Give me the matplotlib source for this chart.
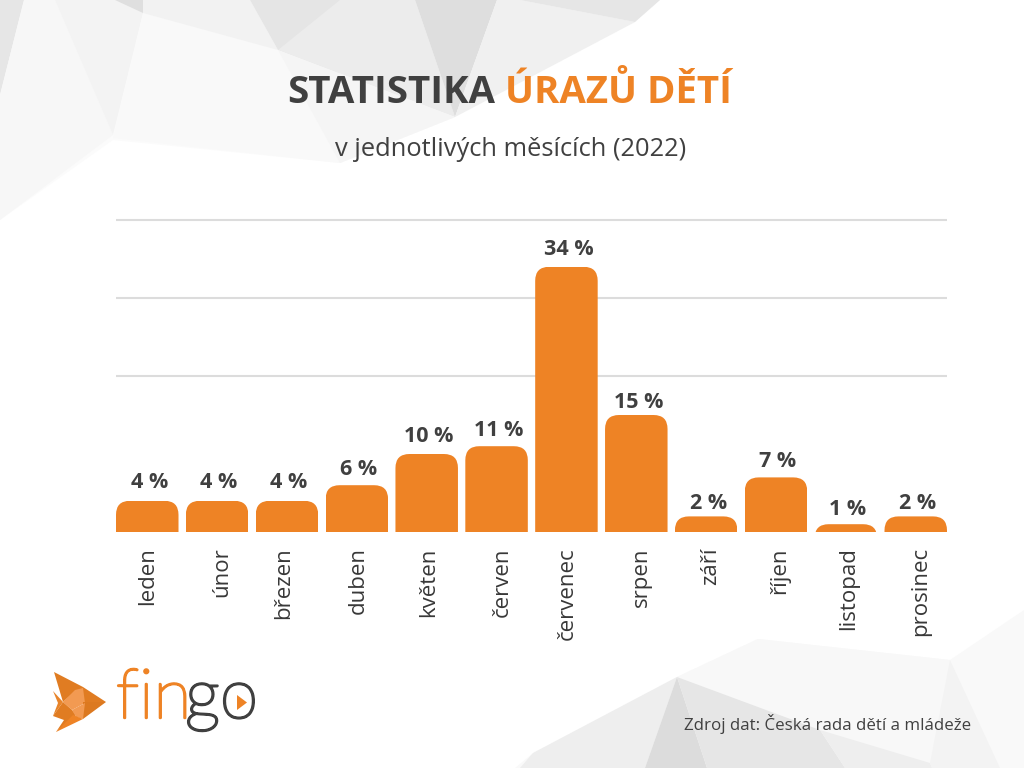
import matplotlib
matplotlib.use("Agg")
import matplotlib.pyplot as plt
import matplotlib.patheffects as pe
from matplotlib.patches import FancyBboxPatch, Polygon
from matplotlib.transforms import ScaledTranslation

# ---- data ----
months = ["leden", "únor", "březen", "duben", "květen", "červen", "červenec",
          "srpen", "září", "říjen", "listopad", "prosinec"]
shares = [4, 4, 4, 6, 10, 11, 34, 15, 2, 7, 1, 2]
grid_ticks = [20, 30, 40]
title_dark = "STATISTIKA"
title_orange = "ÚRAZŮ DĚTÍ"
subtitle = "v jednotlivých měsících (2022)"
source = "Zdroj dat: Česká rada dětí a mládeže"

# gap in pixels between a bar top and the centre of its label
label_gaps = [18, 18, 18, 16, 17, 16, 17, 13, 13, 16, 15, 13]
# sideways nudge in pixels of each month label
tick_nudges = [0, 5, -3, 1, 2, 6, 1, 5, 4, 4, 3, 5]

ORANGE = "#EE8325"
DARK = "#404040"
W, H = 1024, 768
plt.rcParams["font.family"] = ["Open Sans", "DejaVu Sans"]

fig = plt.figure(figsize=(W / 100, H / 100), dpi=100, facecolor="white")

# pixel-space layer: background facets, titles, logo
bg = fig.add_axes([0, 0, 1, 1], zorder=0)
bg.set_xlim(0, W)
bg.set_ylim(H, 0)
bg.axis("off")

facets = [
    ([(0,0),(660,0),(635,22),(455,117),(340,163),(113,140),(0,220)], "#fbfbfb"),
    ([(0,0),(24,0),(0,95)], "#e6e6e6"),
    ([(24,0),(55,0),(113,135),(0,220),(0,95)], "#f7f7f7"),
    ([(55,0),(120,0),(143,13),(113,135)], "#f3f3f3"),
    ([(115,0),(143,0),(143,13)], "#dfdfdf"),
    ([(143,13),(278,50),(113,138)], "#f9f9f9"),
    ([(143,0),(250,0),(278,50),(143,13)], "#f2f2f2"),
    ([(250,0),(340,0),(340,75),(278,50)], "#e5e5e5"),
    ([(278,50),(455,117),(340,163),(113,138)], "#f9f9f9"),
    ([(340,0),(415,0),(455,117),(278,50)], "#ececec"),
    ([(278,50),(455,117),(340,163)], "#f5f5f5"),
    ([(415,0),(497,0),(455,117)], "#dedede"),
    ([(497,0),(520,0),(635,22),(455,117)], "#f0f0f0"),
    ([(520,0),(660,0),(635,22)], "#e6e6e6"),
    ([(515,768),(533,753),(677,677),(758,639),(950,660),(1024,610),(1024,768)], "#f9f9f9"),
    ([(677,677),(758,639),(950,660),(930,763),(820,730)], "#f8f8f8"),
    ([(533,753),(677,677),(645,768),(520,768)], "#eeeeee"),
    ([(677,677),(645,768),(707,768)], "#dcdcdc"),
    ([(677,677),(820,730),(845,768),(707,768)], "#e6e6e6"),
    ([(820,730),(930,763),(932,768),(845,768)], "#eeeeee"),
    ([(950,660),(930,763),(932,768),(1000,768)], "#f3f3f3"),
]
for pts, col in facets:
    bg.add_patch(Polygon(pts, closed=True, facecolor=col, edgecolor="none"))

# titles
bg.text(495, 103, title_dark, color=DARK, fontsize=27.6, fontweight="bold",
        ha="right", va="baseline")
bg.text(505, 103, title_orange, color=ORANGE, fontsize=27.6, fontweight="bold",
        ha="left", va="baseline")
bg.text(511, 156.5, subtitle, color=DARK, fontsize=18.4, ha="center", va="baseline")
bg.text(971, 730, source, color=DARK, fontsize=12.2, ha="right", va="baseline")

# logo
fish = [
    ([(54,672),(83,687),(106,702),(83,702),(73,693),(63,702)], "#E07C22"),
    ([(53,691),(63,702),(53,716),(58,703)], "#E8842A"),
    ([(63,702),(75,690),(83,688),(85,703),(72,710)], "#F29A52"),
    ([(83,702),(106,702),(83,719)], "#DC7920"),
    ([(63,702),(72,710),(76,715),(56,732),(64,720),(53,716)], "#E07C22"),
    ([(72,710),(85,703),(83,719),(76,717)], "#F29A52"),
    ([(56,732),(73,715),(83,719)], "#EE8325"),
]
for pts, col in fish:
    bg.add_patch(Polygon(pts, closed=True, facecolor=col, edgecolor="none"))
logo_font = dict(family="Lato", fontweight="light", fontsize=50, va="baseline", ha="left")
for txt, xpos, col in [("fin", 116, ORANGE), ("go", 185, DARK)]:
    t = bg.text(xpos, 718, txt, color=col, **logo_font)
    t.set_path_effects([pe.withStroke(linewidth=1.7, foreground=col)])
bg.add_patch(Polygon([(237,695),(247,702.5),(237,710)], closed=True, facecolor=ORANGE, edgecolor="none"))

# chart
ax = fig.add_axes([116 / W, 1 - 532 / H, (947 - 116) / W, (532 - 220) / H], zorder=1)
ax.patch.set_alpha(0)
step_px = 69.86
bar_w = 62.5 / step_px
ax.set_xlim(-bar_w / 2, len(months) - 1 + bar_w / 2)
ax.set_ylim(0, 40)
for s in ax.spines.values():
    s.set_visible(False)
ax.set_yticks(grid_ticks)
ax.set_yticklabels([])
ax.tick_params(axis="both", length=0)
ax.grid(axis="y", color="#dcdcdc", linewidth=1.5, clip_on=False, solid_capstyle="butt")
ax.set_axisbelow(True)

x = list(range(len(months)))
bars = ax.bar(x, shares, width=bar_w, color=ORANGE, edgecolor="none", zorder=3)

radius = 14 / step_px
px_y = ax.get_window_extent().height / 40
aspect = step_px / px_y
for bar, v, gap in zip(bars, shares, label_gaps):
    clip = FancyBboxPatch((bar.get_x(), -6), bar.get_width(), v + 6,
                          boxstyle=f"round,pad=0,rounding_size={radius}",
                          mutation_aspect=aspect, transform=ax.transData)
    bar.set_clip_path(clip)
    ax.annotate(f"{v} %", (bar.get_x() + bar.get_width() / 2, v), xytext=(2, gap),
                textcoords="offset pixels", ha="center", va="center",
                fontsize=15.5, fontweight="bold", color=DARK, zorder=4)

ax.set_xticks(x)
ax.set_xticklabels(months, rotation=90, fontsize=16, color="#383838", ha="center", va="top")
ax.tick_params(axis="x", pad=11)
for lab, nudge in zip(ax.get_xticklabels(), tick_nudges):
    lab.set_transform(lab.get_transform() + ScaledTranslation(nudge / 100, 0, fig.dpi_scale_trans))

fig.savefig("out.png", dpi=100)
